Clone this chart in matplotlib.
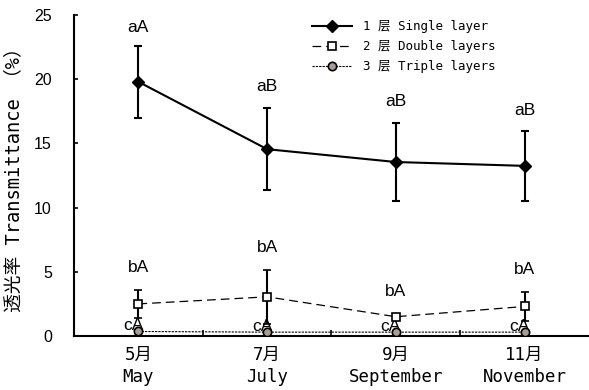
import matplotlib
matplotlib.use("Agg")
import matplotlib.pyplot as plt
from matplotlib.lines import Line2D
import numpy as np

months = ["5月\nMay", "7月\nJuly", "9月\nSeptember", "11月\nNovember"]
single = [19.8, 14.55, 13.55, 13.25]
single_err = [2.8, 3.2, 3.05, 2.7]
double = [2.5, 3.05, 1.5, 2.3]
double_err = [1.1, 2.1, 0.2, 1.15]
triple = [0.35, 0.3, 0.3, 0.3]
triple_err = [0.05, 0.05, 0.05, 0.05]
labels_single = ["aA", "aB", "aB", "aB"]
labels_double = ["bA", "bA", "bA", "bA"]
labels_triple = ["cA", "cA", "cA", "cA"]
legend_names = ["1 层 Single layer", "2 层 Double layers", "3 层 Triple layers"]
ylabel = "透光率 Transmittance （%）"

mono = ["DejaVu Sans Mono", "Noto Sans CJK SC"]
sans = ["Liberation Sans", "Noto Sans CJK SC"]

fig = plt.figure(figsize=(5.89, 3.90), dpi=100)
ax = fig.add_axes([0.1256, 0.1385, 0.8744, 0.823])

x = np.arange(len(months)) + 0.5

st1 = dict(color="black", lw=1.5, ls="-", marker="D", ms=6, mfc="black",
           mec="black")
st2 = dict(color="black", lw=0.9, ls=(0, (7, 4)), marker="s", ms=6,
           mfc="white", mec="black", mew=1.2)
st3 = dict(color="black", lw=0.8, ls=(0, (2, 1)), marker="o", ms=6,
           mfc="#a39e96", mec="black", mew=1.2)

ax.errorbar(x, single, yerr=single_err, capsize=3, elinewidth=1.5,
            capthick=1.5, zorder=3, **st1)
ax.errorbar(x, double, yerr=double_err, capsize=3, elinewidth=1.5,
            capthick=1.5, zorder=3, **st2)
ax.errorbar(x, triple, yerr=triple_err, capsize=0, elinewidth=1.0,
            zorder=3, **st3)

for xi, yi, ei, t in zip(x, single, single_err, labels_single):
    ax.text(xi, max(min(yi + ei + 1.65, 24.0), yi + ei + 1.0), t,
            ha="center", va="center", fontsize=12.5, family=sans)
for xi, yi, ei, t in zip(x, double, double_err, labels_double):
    ax.text(xi, yi + ei + 1.75, t, ha="center", va="center",
            fontsize=12.5, family=sans)
for xi, yi, t in zip(x, triple, labels_triple):
    ax.text(xi + 0.04, yi + 0.45, t, ha="right", va="center",
            fontsize=12.5, family=sans)

ax.set_xlim(0, 4)
ax.set_ylim(0, 25)
ax.set_yticks([0, 5, 10, 15, 20, 25])
ax.set_yticklabels(["0", "5", "10", "15", "20", "25"], family=sans,
                   fontsize=11.5)
ax.set_xticks([1, 2, 3])
ax.set_xticklabels([])
ax.set_xticks(x, minor=True)
ax.set_xticklabels(months, minor=True, family=mono, fontsize=12.5,
                   linespacing=1.3)
ax.tick_params(axis="x", which="minor", length=0, pad=7)
ax.tick_params(axis="x", which="major", direction="in", length=4, width=1.2)
ax.tick_params(axis="y", direction="in", length=3, width=1.2, pad=16)

ax.set_ylabel(ylabel, family=mono, fontsize=13.5, labelpad=8)

for s in ["top", "right"]:
    ax.spines[s].set_visible(False)
for s in ["left", "bottom"]:
    ax.spines[s].set_linewidth(1.5)

handles = [Line2D([], [], **st1), Line2D([], [], **st2), Line2D([], [], **st3)]
ax.legend(handles, legend_names, loc="upper left",
          bbox_to_anchor=(0.44, 1.018), frameon=False,
          prop={"family": mono, "size": 9}, handlelength=3.2,
          handletextpad=0.9, labelspacing=0.55)

fig.savefig("out.png", dpi=100)
